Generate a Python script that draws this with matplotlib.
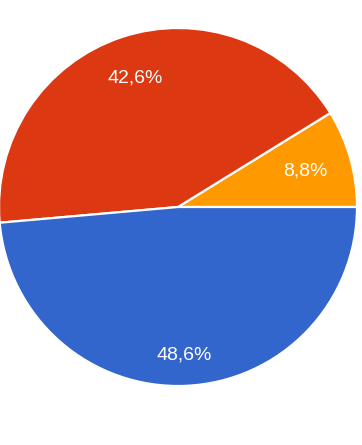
import numpy as np
import matplotlib
matplotlib.use("Agg")
import matplotlib.pyplot as plt

# valores del gráfico
etiquetas = ["Opción A", "Opción B", "Opción C"]
porcentajes = [8.8, 42.6, 48.6]
colores = ["#FF9900", "#DC3912", "#3366CC"]

fig = plt.figure(figsize=(3.62, 4.45), dpi=100)
ax = fig.add_axes([0, 0, 1, 1])

r_px = 179.0
cx, cy = 178.0, 207.0

wedges, textos, autotextos = ax.pie(
    porcentajes, colors=colores, startangle=0, counterclock=True,
    radius=1.0, autopct=lambda p: f"{p:.1f}%".replace(".", ","),
    pctdistance=0.78, wedgeprops=dict(edgecolor="white", linewidth=1.6),
    textprops=dict(color="white", fontsize=14, family="Liberation Sans"))

# ajustar distancia de cada etiqueta
distancias = [0.74, 0.76, 0.83]
for w, t, d in zip(wedges, autotextos, distancias):
    ang = np.deg2rad((w.theta1 + w.theta2) / 2)
    t.set_position((d * np.cos(ang), d * np.sin(ang)))

ax.set_xlim(-cx / r_px, (362 - cx) / r_px)
ax.set_ylim(-(445 - cy) / r_px, cy / r_px)
ax.set_aspect("auto")
ax.axis("off")

fig.savefig("out.png", dpi=100, facecolor="white")
